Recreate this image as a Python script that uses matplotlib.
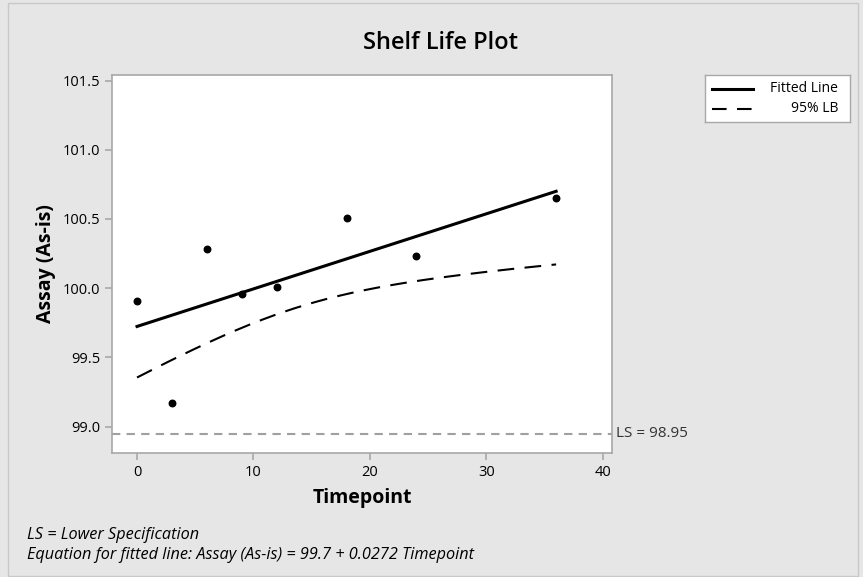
import numpy as np
import matplotlib.pyplot as plt
from matplotlib.patches import Rectangle
from matplotlib.lines import Line2D

plt.rcParams['font.family'] = ['Open Sans', 'DejaVu Sans']

# data
timepoint = np.array([0, 3, 6, 9, 12, 18, 24, 36])
assay = np.array([99.91, 99.17, 100.28, 99.96, 100.01, 100.51, 100.23, 100.65])
lower_spec = 98.95
t_crit = 1.943  # one-sided 95%, df = 6

# regression and lower confidence bound
slope, intercept = np.polyfit(timepoint, assay, 1)
n = len(timepoint)
resid = assay - (intercept + slope * timepoint)
s = np.sqrt(np.sum(resid**2) / (n - 2))
sxx = np.sum((timepoint - timepoint.mean())**2)
tt = np.linspace(0, 36, 200)
fit = intercept + slope * tt
lb = fit - t_crit * s * np.sqrt(1 / n + (tt - timepoint.mean())**2 / sxx)

bg = '#e6e6e6'
grey = '#a8a8a8'
fig = plt.figure(figsize=(8.63, 5.77), dpi=100, facecolor=bg)
ax = fig.add_axes([112 / 863, 1 - 453 / 577, 500 / 863, 378 / 577])
ax.set_facecolor('white')

ax.axhline(lower_spec, color='#a0a0a0', ls=(0, (4, 3)), lw=1.5)
ax.plot(tt, fit, color='black', lw=2.2)
ax.plot(tt, lb, color='black', lw=1.5, ls=(0, (8, 5)))
ax.scatter(timepoint, assay, s=22, color='black', zorder=3)

ax.set_xlim(-2.15, 40.8)
ax.set_ylim(98.81, 101.54)
ax.set_xticks([0, 10, 20, 30, 40])
ax.set_yticks([99.0, 99.5, 100.0, 100.5, 101.0, 101.5])
ax.set_yticklabels(['99.0', '99.5', '100.0', '100.5', '101.0', '101.5'])
for sp in ax.spines.values():
    sp.set_color(grey)
    sp.set_linewidth(1.2)
ax.tick_params(colors=grey, labelcolor='black', labelsize=10.5, length=5, width=1.2)

ax.set_xlabel('Timepoint', fontsize=14, fontweight='bold', labelpad=6)
ax.set_ylabel('Assay (As-is)', fontsize=14, fontweight='bold', labelpad=5)
fig.text(440 / 863, 1 - 43 / 577, 'Shelf Life Plot', fontsize=17,
         fontweight='semibold', ha='center', va='center')

ax.text(1.008, lower_spec, 'LS = 98.95', transform=ax.get_yaxis_transform(),
        va='center', ha='left', fontsize=11, color='#333333')

# legend box drawn by hand so labels sit right-aligned
lax = fig.add_axes([705 / 863, 1 - 122 / 577, 145 / 863, 47 / 577])
lax.set_xlim(0, 145)
lax.set_ylim(47, 0)
lax.set_xticks([])
lax.set_yticks([])
lax.set_facecolor('white')
for sp in lax.spines.values():
    sp.set_color(grey)
    sp.set_linewidth(1.0)
lax.add_line(Line2D([7, 48], [14, 14], color='black', lw=2.2))
lax.add_line(Line2D([7, 48], [34, 34], color='black', lw=1.5, ls=(0, (7, 5))))
lax.text(133, 14, 'Fitted Line', ha='right', va='center', fontsize=10)
lax.text(133, 34, '95% LB', ha='right', va='center', fontsize=10)

fig.text(27 / 863, 1 - 535 / 577, 'LS = Lower Specification', fontsize=11.7,
         style='italic', va='center')
fig.text(27 / 863, 1 - 555 / 577,
         'Equation for fitted line: Assay (As-is) = 99.7 + 0.0272 Timepoint',
         fontsize=11.7, style='italic', va='center')

fig.patches.append(Rectangle((8 / 863, 0.002), 850 / 863, 1 - 4 / 577,
                             transform=fig.transFigure, fill=False,
                             edgecolor='#c8c8c8', lw=1))

fig.savefig('out.png', dpi=100, facecolor=bg)
